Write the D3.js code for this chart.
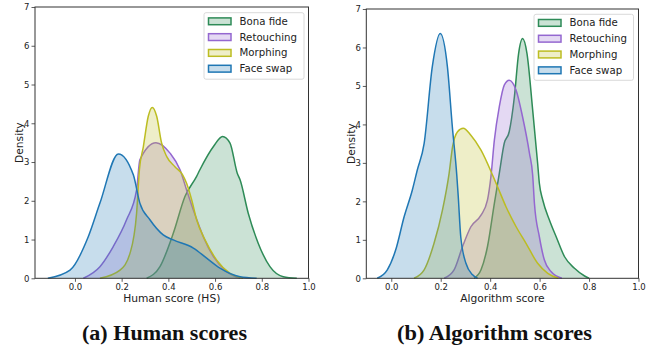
<!DOCTYPE html>
<html><head><meta charset="utf-8">
<script src="https://cdn.jsdelivr.net/npm/d3@7"></script>
<style>
html,body{margin:0;padding:0;background:#fff;}
svg{display:block;}
</style></head>
<body>
<svg id="chart" width="667" height="350"></svg>
<script>
// ---- data ----
const seriesNames = ["Bona fide", "Retouching", "Morphing", "Face swap"];
const seriesColors = ["#2e8b57", "#9467d0", "#bcbd22", "#1f77b4"];
const xTicks = [0.0, 0.2, 0.4, 0.6, 0.8, 1.0];
const yTicks = [0, 1, 2, 3, 4, 5, 6, 7];

// Panel (a): Human scores  [score, density]
const humanBonaFide = [[0.307,0],[0.364,0.30],[0.421,1.16],[0.471,2.11],[0.521,2.63],[0.535,2.80],[0.593,3.40],[0.632,3.66],[0.664,3.49],[0.695,2.71],[0.707,2.54],[0.742,1.68],[0.785,0.90],[0.835,0.30],[0.892,0.04],[0.95,0]];
const humanRetouching = [[0.036,0],[0.107,0.30],[0.164,0.82],[0.221,1.51],[0.264,2.28],[0.278,3.06],[0.347,3.50],[0.407,3.23],[0.45,2.80],[0.478,2.28],[0.507,1.76],[0.55,1.07],[0.593,0.56],[0.65,0.17],[0.707,0]];
const humanMorphing = [[0.107,0],[0.193,0.21],[0.236,0.65],[0.264,1.68],[0.276,2.80],[0.293,3.40],[0.314,4.18],[0.331,4.41],[0.35,4.18],[0.371,3.49],[0.393,3.14],[0.428,2.88],[0.461,2.67],[0.478,2.45],[0.50,2.02],[0.521,1.51],[0.557,0.99],[0.607,0.47],[0.664,0.13],[0.72,0]];
const humanFaceSwap = [[-0.116,0],[-0.021,0.21],[0.057,1.07],[0.107,1.94],[0.186,3.21],[0.25,2.67],[0.278,1.94],[0.321,1.51],[0.378,1.12],[0.421,0.99],[0.507,0.78],[0.564,0.52],[0.621,0.26],[0.707,0.04],[0.778,0]];

// Panel (b): Algorithm scores  [score, density]
const algoBonaFide = [[0.335,0],[0.363,0.22],[0.389,0.82],[0.417,1.95],[0.437,2.73],[0.457,3.51],[0.477,3.81],[0.498,4.72],[0.515,5.84],[0.531,6.23],[0.549,5.84],[0.572,4.37],[0.592,2.99],[0.599,2.47],[0.613,2.03],[0.640,1.51],[0.667,1.08],[0.701,0.56],[0.741,0.26],[0.782,0.06],[0.80,0]];
const algoRetouching = [[0.214,0],[0.254,0.22],[0.288,0.82],[0.322,1.34],[0.363,1.64],[0.389,2.03],[0.403,2.64],[0.417,3.59],[0.437,4.46],[0.457,5.02],[0.477,5.15],[0.505,4.89],[0.531,4.20],[0.559,3.25],[0.572,2.68],[0.579,1.95],[0.599,1.08],[0.619,0.48],[0.647,0.17],[0.69,0]];
const algoMorphing = [[0.092,0],[0.133,0.22],[0.173,0.91],[0.207,1.77],[0.234,2.73],[0.248,3.42],[0.268,3.81],[0.291,3.90],[0.322,3.72],[0.363,3.33],[0.410,2.68],[0.430,2.38],[0.464,1.86],[0.505,1.34],[0.545,0.91],[0.592,0.39],[0.633,0.13],[0.676,0]];
const algoFaceSwap = [[-0.057,0],[-0.016,0.22],[0.018,0.74],[0.052,1.60],[0.085,2.29],[0.105,2.81],[0.133,3.51],[0.166,5.50],[0.198,6.36],[0.227,5.50],[0.247,3.94],[0.265,2.68],[0.271,2.12],[0.281,1.08],[0.302,0.39],[0.329,0.09],[0.349,0]];

const panels = [
  {caption:"(a) Human scores", capX:164.5, capW:165, xlabel:"Human score (HS)", xDomain:[-0.171,1.0], left:35, right:308.5, top:7, bottom:278.3, ylabX:19,
   series:[humanBonaFide, humanRetouching, humanMorphing, humanFaceSwap],
   legend:{x:204, y:12.7, w:100, h:66.5}},
  {caption:"(b) Algorithm scores", capX:494.5, capW:195, xlabel:"Algorithm score", xDomain:[-0.101,1.0], left:366.3, right:638.5, top:9, bottom:278.3, ylabX:351,
   series:[algoBonaFide, algoRetouching, algoMorphing, algoFaceSwap],
   legend:{x:534, y:14.3, w:99.5, h:66}}
];

const svg = d3.select("#chart");
const tickFont = "DejaVu Sans, sans-serif";

panels.forEach(p => {
  const x = d3.scaleLinear().domain(p.xDomain).range([p.left, p.right]);
  const y = d3.scaleLinear().domain([0, 7]).range([p.bottom, p.top]);
  const g = svg.append("g");

  const area = d3.area().x(d => x(d[0])).y0(y(0)).y1(d => y(d[1])).curve(d3.curveMonotoneX);
  const line = d3.line().x(d => x(d[0])).y(d => y(d[1])).curve(d3.curveMonotoneX);

  p.series.forEach((s, i) => {
    g.append("path").attr("d", area(s)).attr("fill", seriesColors[i]).attr("fill-opacity", 0.25).attr("stroke", "none");
    g.append("path").attr("d", line(s)).attr("fill", "none").attr("stroke", seriesColors[i]).attr("stroke-width", 1.5).attr("stroke-linejoin","round");
  });

  // frame
  g.append("rect").attr("x", p.left).attr("y", p.top).attr("width", p.right - p.left).attr("height", p.bottom - p.top)
    .attr("fill", "none").attr("stroke", "#333").attr("stroke-width", 1);

  // axes
  const xAxis = g.append("g").attr("transform", `translate(0,${p.bottom})`)
    .call(d3.axisBottom(x).tickValues(xTicks).tickFormat(d3.format(".1f")).tickSize(3.5).tickPadding(2));
  const yAxis = g.append("g").attr("transform", `translate(${p.left},0)`)
    .call(d3.axisLeft(y).tickValues(yTicks).tickFormat(d3.format("d")).tickSize(3.5).tickPadding(2));
  [xAxis, yAxis].forEach(a => {
    a.select(".domain").remove();
    a.selectAll("line").attr("stroke", "#333").attr("stroke-width", 0.8);
    a.selectAll("text").attr("font-family", tickFont).attr("font-size", 8.5).attr("fill", "#222");
  });

  // axis labels
  g.append("text").attr("x", (p.left + p.right) / 2).attr("y", 301.5).attr("text-anchor", "middle")
    .attr("font-family", tickFont).attr("font-size", 10.7).attr("fill", "#222").text(p.xlabel);
  g.append("text").attr("transform", `translate(${p.ylabX},${(p.top + p.bottom) / 2}) rotate(-90)`)
    .attr("text-anchor", "middle").attr("dy", "0.35em")
    .attr("font-family", tickFont).attr("font-size", 10.7).attr("fill", "#222").text("Density");

  // legend
  const L = p.legend;
  const lg = g.append("g");
  lg.append("rect").attr("x", L.x).attr("y", L.y).attr("width", L.w).attr("height", L.h).attr("rx", 2)
    .attr("fill", "#fff").attr("fill-opacity", 0.85).attr("stroke", "#d0d0d0").attr("stroke-width", 0.8);
  seriesNames.forEach((n, i) => {
    const cy = L.y + 8.6 + i * 15.8;
    lg.append("rect").attr("x", L.x + 4.5).attr("y", cy - 3.4).attr("width", 22.5).attr("height", 6.8)
      .attr("fill", seriesColors[i]).attr("fill-opacity", 0.25).attr("stroke", seriesColors[i]).attr("stroke-width", 1.5);
    lg.append("text").attr("x", L.x + 35.5).attr("y", cy).attr("dy", "0.35em")
      .attr("font-family", tickFont).attr("font-size", 10.2).attr("fill", "#222").text(n);
  });

  // caption
  g.append("text").attr("x", p.capX - p.capW / 2).attr("y", 340)
    .attr("textLength", p.capW).attr("lengthAdjust", "spacingAndGlyphs")
    .attr("font-family", "Liberation Serif, serif").attr("font-weight", "bold").attr("font-size", 20)
    .attr("fill", "#111").text(p.caption);
});
</script>
</body></html>
